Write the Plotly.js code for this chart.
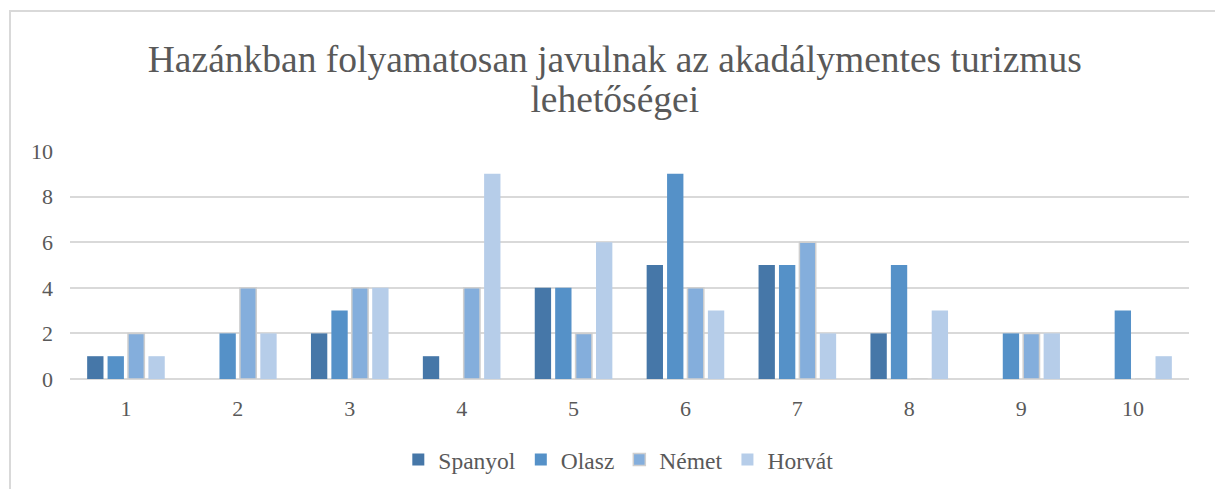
<!DOCTYPE html>
<html>
<head>
<meta charset="utf-8">
<script src="https://cdn.plot.ly/plotly-3.0.1.min.js"></script>
<style>
html,body{margin:0;padding:0;background:#fff;overflow:hidden;}
#frame{position:absolute;left:9px;top:10px;width:1300px;height:600px;border-left:2px solid #d9d9d9;border-top:2px solid #d9d9d9;pointer-events:none;z-index:10;}
#chart{position:absolute;left:0;top:0;width:1215px;height:489px;}
</style>
</head>
<body>
<div id="chart"></div>
<div id="frame"></div>
<script>
const categories = ['1','2','3','4','5','6','7','8','9','10'];
const spanyol = [1, 0, 2, 1, 4, 5, 5, 2, 0, 0];
const olasz   = [1, 2, 3, 0, 4, 9, 5, 5, 2, 3];
const nemet   = [2, 4, 4, 4, 2, 4, 6, 0, 2, 0];
const horvat  = [1, 2, 4, 9, 6, 3, 2, 3, 2, 1];
const seriesNames = ['Spanyol', 'Olasz', 'Német', 'Horvát'];
const titleText = 'Hazánkban folyamatosan javulnak az akadálymentes turizmus<br>lehetőségei';

const colors = ['#4677a8', '#5591c8', '#84aedc', '#b6cde9'];
const borders = ['#4677a8', '#5591c8', '#cfcfcf', '#e8eef6'];
const data = [spanyol, olasz, nemet, horvat].map((vals, i) => ({
  type: 'bar',
  name: seriesNames[i],
  x: categories,
  y: vals,
  marker: {color: colors[i], line: {color: borders[i], width: i === 2 ? 1.5 : 0}},
  hoverinfo: 'x+y+name'
}));

const font = 'Liberation Serif';
const layout = {
  width: 1215, height: 489,
  margin: {l: 70, r: 26, t: 151, b: 110, autoexpand: false},
  paper_bgcolor: '#ffffff',
  plot_bgcolor: '#ffffff',
  font: {family: font, color: '#595959', size: 22},
  title: {
    text: titleText,
    font: {family: font, size: 37.5, color: '#595959'},
    x: 0.506, xanchor: 'center',
    y: 0.853, yanchor: 'top',
    automargin: false
  },
  barmode: 'group',
  bargap: 0.27,
  bargroupgap: 0.2,
  xaxis: {
    type: 'category',
    showgrid: false,
    zeroline: false,
    showline: false,
    ticks: '',
    ticklabelstandoff: 14,
    automargin: false,
    tickfont: {family: font, size: 22, color: '#595959'}
  },
  yaxis: {
    range: [0, 10],
    dtick: 2,
    showgrid: true,
    gridcolor: '#d9d9d9',
    gridwidth: 2,
    zeroline: true,
    zerolinecolor: '#d9d9d9',
    zerolinewidth: 2,
    showline: false,
    ticks: '',
    ticklabelstandoff: 16,
    automargin: false,
    tickfont: {family: font, size: 22, color: '#595959'}
  },
  legend: {
    orientation: 'h',
    x: 0.49, xanchor: 'center',
    yref: 'container',
    y: 0.06, yanchor: 'middle',
    font: {family: font, size: 23.5, color: '#595959'},
    itemwidth: 30,
    tracegroupgap: 0
  },
  showlegend: true
};

Plotly.newPlot('chart', data, layout, {displayModeBar: false, staticPlot: true}).then(() => {
  const lines = document.querySelectorAll('.gtitle tspan.line');
  if (lines.length > 1) lines[1].setAttribute('dy', '1.07em');
});
</script>
</body>
</html>
